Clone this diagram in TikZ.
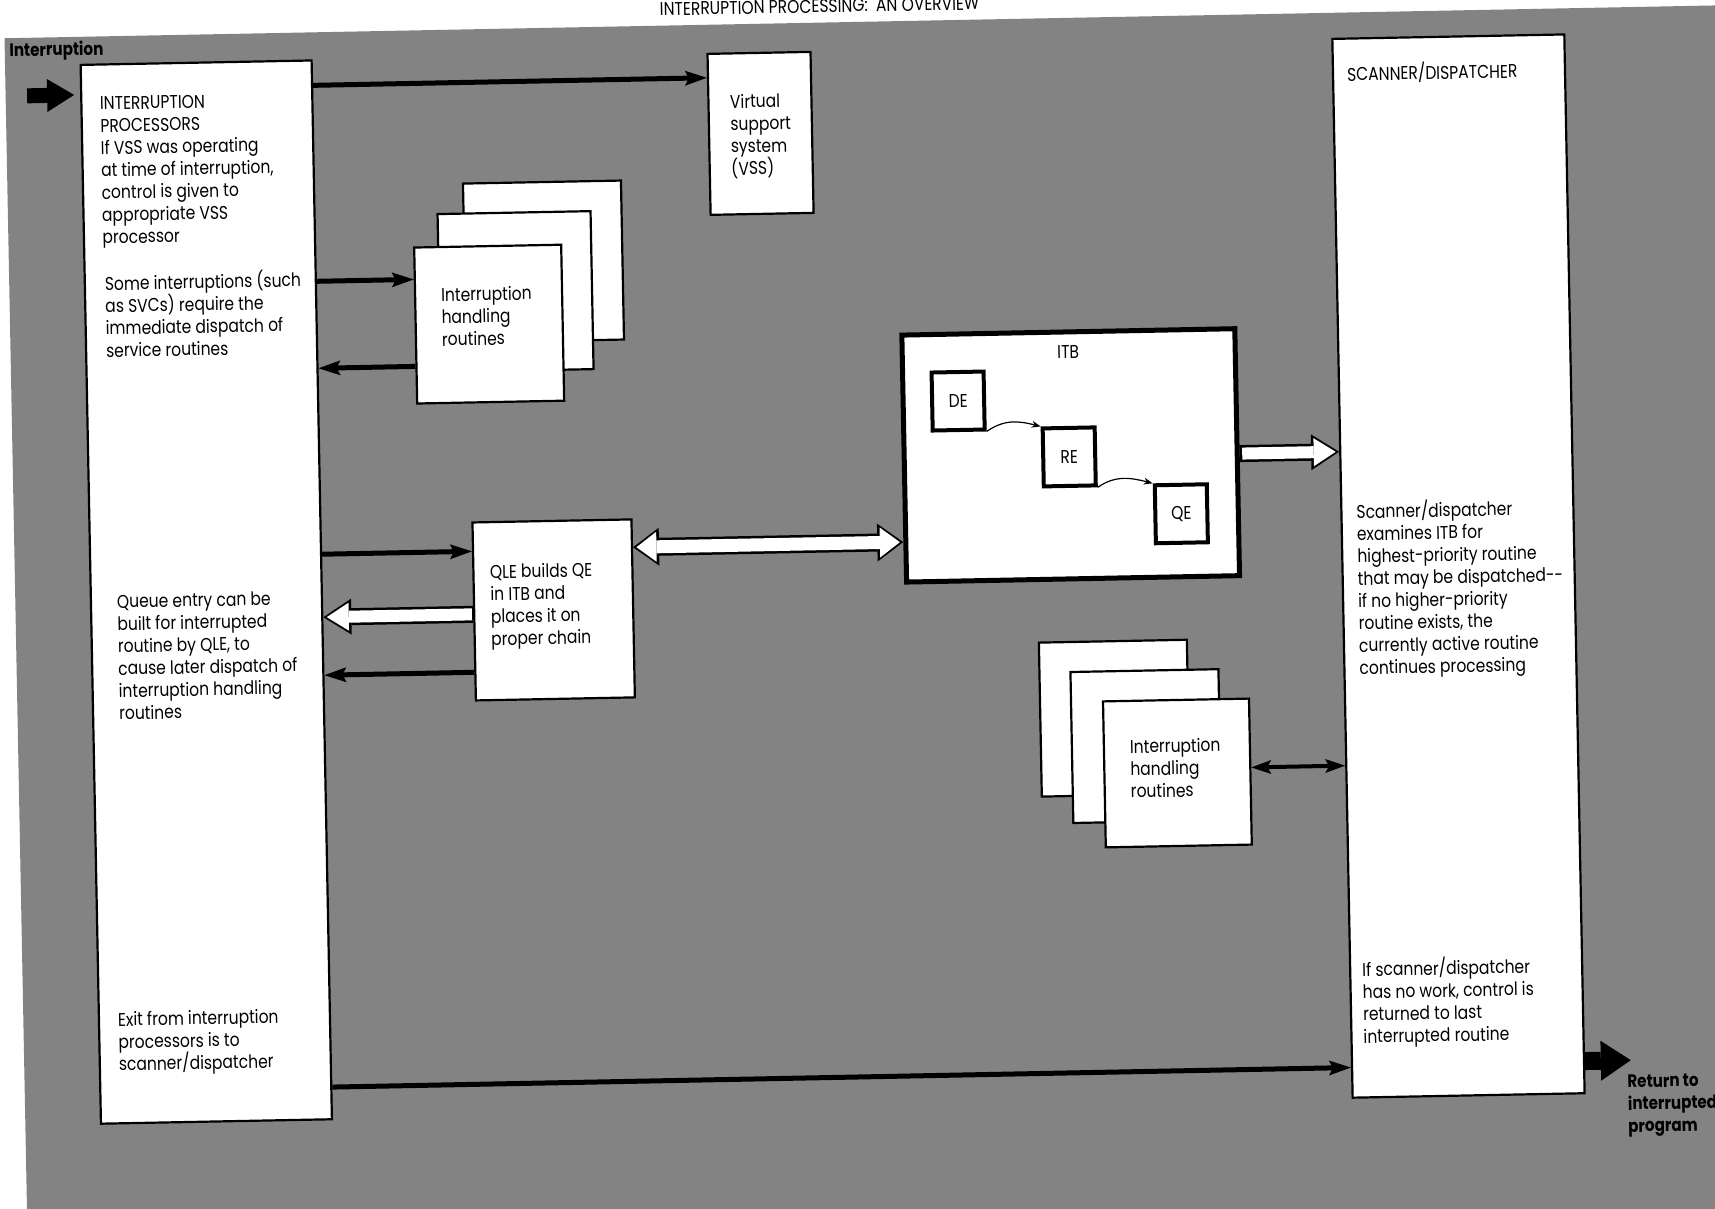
\documentclass[tikz,border=0pt]{standalone}
\usepackage{fontspec}
\setmainfont{Poppins}[FakeStretch=0.84]
\usetikzlibrary{arrows.meta,calc}
\definecolor{bggray}{RGB}{131,131,131}
\tikzset{
  box/.style={draw=black, fill=white, line width=2.2pt, inner sep=0pt, anchor=north west},
  thickbox/.style={box, line width=5pt},
  ebox/.style={draw=black, fill=white, line width=4pt, inner sep=0pt, minimum width=52pt, minimum height=58pt, font=\fontsize{18.5pt}{22.3pt}\selectfont},
  txt/.style={anchor=base west, align=left, inner sep=0pt, font=\fontsize{18.5pt}{22.3pt}\selectfont},
  boldtxt/.style={anchor=base west, align=left, inner sep=0pt, font=\fontsize{18pt}{22.3pt}\selectfont\bfseries},
  blk/.style={line width=5pt, -{Stealth[length=22pt,width=15pt,inset=4pt,line width=0pt]}},
  blkd/.style={line width=4pt, {Stealth[length=20pt,width=14pt,inset=4pt,line width=0pt]}-{Stealth[length=20pt,width=14pt,inset=4pt,line width=0pt]}},
  thin/.style={line width=1.2pt, -{Stealth[length=9pt,width=7pt,line width=0pt]}},
  wout/.style={line width=17pt, draw=black, -{Triangle[length=28pt,width=36pt,line width=0pt]}},
  win/.style={line width=12pt, draw=white, -{Triangle[length=22pt,width=28pt,line width=0pt]}, shorten >=3.4pt},
  woutd/.style={line width=18pt, draw=black, {Triangle[length=26pt,width=38pt,line width=0pt]}-{Triangle[length=26pt,width=38pt,line width=0pt]}},
  wind/.style={line width=13pt, draw=white, {Triangle[length=20pt,width=30pt,line width=0pt]}-{Triangle[length=20pt,width=30pt,line width=0pt]}, shorten >=3.4pt, shorten <=3.4pt},
  fatin/.style={line width=15pt, -{Triangle[length=27pt,width=33pt,line width=0pt]}},
  fatout/.style={line width=18pt, -{Triangle[length=30pt,width=40pt,line width=0pt]}},
}
\begin{document}
\begin{tikzpicture}[x=1pt,y=-1pt]
\useasboundingbox (0,0) rectangle (1715,1209);
\clip (0,0) rectangle (1715,1209);
\fill[white] (0,0) rectangle (1715,1209);
\begin{scope}[rotate around={1.1:(857,604)}, transform shape]
\fill[bggray] (15.5,22) rectangle (1850,1300);
\node[anchor=base, inner sep=0pt, font=\fontsize{18.5pt}{22.3pt}\selectfont] (title) at (831,12) {INTERRUPTION PROCESSING:\ \ AN OVERVIEW};

% boxes
\node[box, minimum width=231pt, minimum height=1059pt] (intbox) at (90,49) {};
\node[box, minimum width=103pt, minimum height=161pt] (vss) at (717,50) {};
\node[box, minimum width=158pt, minimum height=159pt] (st1a) at (470,175) {};
\node[box, minimum width=153pt, minimum height=158pt] (st1b) at (444,205) {};
\node[box, minimum width=147pt, minimum height=156pt] (st1c) at (420,238) {};
\node[box, minimum width=159pt, minimum height=178pt] (qle) at (473,514) {};
\node[thickbox, minimum width=333pt, minimum height=247pt] (itb) at (904.5,333.5) {};
\node[ebox] (de) at (962,403) {DE};
\node[ebox] (re) at (1072,461) {RE};
\node[ebox] (qe) at (1183,520) {QE};
\node[box, minimum width=232pt, minimum height=1059pt] (scan) at (1342,47) {};
\node[box, minimum width=148pt, minimum height=154pt] (st2a) at (1037,645) {};
\node[box, minimum width=148pt, minimum height=151pt] (st2b) at (1068,675) {};
\node[box, minimum width=146pt, minimum height=146pt] (st2c) at (1100,705) {};

% texts (base anchor = baseline of last line)
\node[boldtxt] (tint) at (20,40.5) {Interruption};
\node[txt] (t1) at (109.5,229.3) {INTERRUPTION\\PROCESSORS\\If VSS was operating\\at time of interruption,\\control is given to\\appropriate VSS\\processor};
\node[txt] (t2) at (111,342.9) {Some interruptions (such\\as SVCs) require the\\immediate dispatch of\\service routines};
\node[txt] (t3) at (117,705.5) {Queue entry can be\\built for interrupted\\routine by QLE, to\\cause later dispatch of\\interruption handling\\routines};
\node[txt] (t4) at (110,1056.6) {Exit from interruption\\processors is to\\scanner/dispatcher};
\node[txt] (tv) at (739.5,172.9) {Virtual\\support\\system\\(VSS)};
\node[txt] (ts1) at (447,338.1) {Interruption\\handling\\routines};
\node[txt] (tq) at (490.5,638.4) {QLE builds QE\\in ITB and\\places it on\\proper chain};
\node[inner sep=0pt, font=\fontsize{18.5pt}{22.3pt}\selectfont] (titb) at (1073,356) {ITB};
\node[txt] (ts2) at (1127,803.1) {Interruption\\handling\\routines};
\node[txt] (tsc) at (1357,90.5) {SCANNER/DISPATCHER};
\node[txt] (ts3) at (1358,684.1) {Scanner/dispatcher\\examines ITB for\\highest-priority routine\\that may be dispatched-{}-\\if no higher-priority\\routine exists, the\\currently active routine\\continues processing};
\node[txt] (ts4) at (1355,1052.9) {If scanner/dispatcher\\has no work, control is\\returned to last\\interrupted routine};
\node[boldtxt] (tret) at (1618,1147) {Return to\\interrupted\\program};

% row coordinates
\coordinate (r75) at (0,75);
\coordinate (r80) at (0,80);
\coordinate (r271) at (0,271);
\coordinate (r358) at (0,358);
\coordinate (r461) at (0,461);
\coordinate (r543) at (0,543);
\coordinate (r544) at (0,544);
\coordinate (r607) at (0,607);
\coordinate (r665) at (0,665);
\coordinate (r775) at (0,775);
\coordinate (r1075) at (0,1075);
\coordinate (r1077) at (0,1077);
\coordinate (inA) at (37,80);
\coordinate (retB) at (1622,1075);

% connectors
\draw[fatin, shorten >=6pt] (inA) -- ($(intbox.north west)!(r80)!(intbox.south west)$);
\draw[blk] ($(intbox.north east)!(r75)!(intbox.south east)$) -- ($(vss.north west)!(r75)!(vss.south west)$);
\draw[blk] ($(intbox.north east)!(r271)!(intbox.south east)$) -- ($(st1c.north west)!(r271)!(st1c.south west)$);
\draw[blk] ($(st1c.north west)!(r358)!(st1c.south west)$) -- ($(intbox.north east)!(r358)!(intbox.south east)$);
\draw[blk] ($(intbox.north east)!(r544)!(intbox.south east)$) -- ($(qle.north west)!(r544)!(qle.south west)$);
\draw[wout] ($(qle.north west)!(r607)!(qle.south west)$) -- ($(intbox.north east)!(r607)!(intbox.south east)$);
\draw[win, shorten <=1.2pt] ($(qle.north west)!(r607)!(qle.south west)$) -- ($(intbox.north east)!(r607)!(intbox.south east)$);
\draw[blk] ($(qle.north west)!(r665)!(qle.south west)$) -- ($(intbox.north east)!(r665)!(intbox.south east)$);
\draw[woutd] ($(qle.north east)!(r543)!(qle.south east)$) -- ($(itb.north west)!(r543)!(itb.south west)$);
\draw[wind] ($(qle.north east)!(r543)!(qle.south east)$) -- ($(itb.north west)!(r543)!(itb.south west)$);
\draw[wout] ($(itb.north east)!(r461)!(itb.south east)$) -- ($(scan.north west)!(r461)!(scan.south west)$);
\draw[win, shorten <=2.6pt] ($(itb.north east)!(r461)!(itb.south east)$) -- ($(scan.north west)!(r461)!(scan.south west)$);
\draw[blkd] ($(st2c.north east)!(r775)!(st2c.south east)$) -- ($(scan.north west)!(r775)!(scan.south west)$);
\draw[blk] ($(intbox.north east)!(r1077)!(intbox.south east)$) -- ($(scan.north west)!(r1077)!(scan.south west)$);
\draw[fatout] ($(scan.north east)!(r1075)!(scan.south east)$) -- (retB);
\draw[thin] (de.south east) .. controls +(18,-12) and +(-22,-6) .. (re.north west);
\draw[thin] (re.south east) .. controls +(18,-12) and +(-22,-6) .. (qe.north west);
\end{scope}
\end{tikzpicture}
\end{document}
